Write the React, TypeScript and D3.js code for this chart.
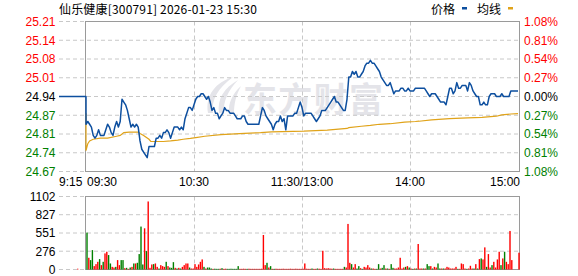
import React from 'react';
import * as d3 from 'd3';

const title = '仙乐健康[300791] 2026-01-23 15:30';
const legendLabels = ['价格', '均线'];
const preClose = 24.94;
const priceTicks = ['25.21', '25.14', '25.08', '25.01', '24.94', '24.87', '24.81', '24.74', '24.67'];
const pctTicks = ['1.08%', '0.81%', '0.54%', '0.27%', '0.00%', '0.27%', '0.54%', '0.81%', '1.08%'];
const volTicks = [1102, 827, 551, 276, 0];
const timeLabels = [
  { t: -15, label: '9:15', anchor: 'start' },
  { t: 0, label: '09:30', anchor: 'start' },
  { t: 60, label: '10:30', anchor: 'middle' },
  { t: 120, label: '11:30/13:00', anchor: 'middle' },
  { t: 180, label: '14:00', anchor: 'middle' },
  { t: 240, label: '15:00', anchor: 'end' },
];
const gridMinutes = [60, 120, 180];

// pre-market call auction (9:15 - 9:30)
const auctionTimes = [-15, 0];
const auctionPrices = [24.94, 24.94];
const auctionVolMinute = -5;
const auctionVolume = 12;

// one price per minute, 09:30 .. 15:00 (241 minutes)
const prices = [
  24.84, 24.85, 24.84, 24.83, 24.80, 24.79, 24.80, 24.82, 24.80, 24.80,
  24.80, 24.82, 24.84, 24.83, 24.81, 24.80, 24.83, 24.85, 24.83, 24.85,
  24.93, 24.92, 24.91, 24.89, 24.86, 24.83, 24.84, 24.83, 24.84, 24.83,
  24.78, 24.75, 24.74, 24.73, 24.72, 24.76, 24.76, 24.76, 24.76, 24.79,
  24.79, 24.80, 24.79, 24.81, 24.81, 24.82, 24.81, 24.79, 24.81, 24.83,
  24.83, 24.83, 24.82, 24.83, 24.82, 24.86, 24.88, 24.90, 24.90, 24.89,
  24.91, 24.93, 24.94, 24.94, 24.95, 24.95, 24.94, 24.93, 24.94, 24.92,
  24.89, 24.90, 24.88, 24.88, 24.86, 24.87, 24.88, 24.90, 24.89, 24.89,
  24.88, 24.88, 24.88, 24.87, 24.86, 24.86, 24.86, 24.87, 24.87, 24.85,
  24.84, 24.84, 24.84, 24.84, 24.84, 24.84, 24.84, 24.87, 24.90, 24.89,
  24.87, 24.86, 24.85, 24.84, 24.82, 24.84, 24.85, 24.85, 24.87, 24.85,
  24.86, 24.82, 24.87, 24.87, 24.87, 24.87, 24.88, 24.88, 24.90, 24.92,
  24.90, 24.87, 24.88, 24.88, 24.88, 24.88, 24.87, 24.86, 24.85, 24.86,
  24.87, 24.89, 24.89, 24.89, 24.90, 24.91, 24.92, 24.93, 24.94, 24.92,
  24.92, 24.91, 24.90, 24.89, 24.89, 24.93, 25.01, 25.01, 25.03, 25.02,
  25.03, 25.01, 25.01, 25.02, 25.03, 25.05, 25.06, 25.06, 25.07, 25.06,
  25.06, 25.05, 25.04, 25.03, 25.01, 25.00, 24.99, 24.98, 24.98, 24.99,
  24.97, 24.95, 24.96, 24.96, 24.96, 24.97, 24.97, 24.96, 24.96, 24.97,
  24.96, 24.96, 24.96, 24.97, 24.97, 24.97, 24.97, 24.97, 24.97, 24.96,
  24.95, 24.94, 24.95, 24.95, 24.95, 24.94, 24.93, 24.92, 24.92, 24.92,
  24.91, 24.94, 24.97, 24.97, 24.95, 24.96, 24.99, 24.97, 24.97, 24.98,
  24.98, 24.98, 24.96, 24.99, 24.98, 24.96, 24.95, 24.94, 24.94, 24.91,
  24.91, 24.92, 24.91, 24.91, 24.94, 24.95, 24.95, 24.95, 24.94, 24.94,
  24.94, 24.95, 24.94, 24.94, 24.94, 24.94, 24.96, 24.96, 24.96, 24.96,
  24.96,
];

// average-price line, read at its visible turning points
const avgTimes = [0, 0, 1, 2, 4, 8, 12, 17, 19, 21, 24, 29, 30, 32, 35, 36, 43, 47, 51, 54, 58, 61, 66, 75, 88, 97, 103, 121, 134, 145, 146, 153, 158, 163, 169, 177, 183, 185, 192, 202, 212, 220, 228, 231, 236, 240];
const avgValues = [24.88, 24.745, 24.77, 24.78, 24.786, 24.79, 24.79, 24.797, 24.80, 24.81, 24.812, 24.812, 24.807, 24.80, 24.786, 24.778, 24.778, 24.78, 24.783, 24.786, 24.789, 24.792, 24.797, 24.803, 24.807, 24.81, 24.813, 24.815, 24.819, 24.825, 24.828, 24.833, 24.836, 24.84, 24.842, 24.848, 24.85, 24.851, 24.856, 24.86, 24.863, 24.865, 24.869, 24.874, 24.877, 24.878];

const volumes = [
  557, 177, 142, 293, 51, 81, 116, 157, 66, 116,
  243, 268, 218, 91, 40, 30, 40, 142, 66, 142,
  142, 20, 25, 10, 30, 40, 91, 91, 101, 233,
  648, 76, 622, 278, 1027, 25, 76, 81, 91, 40,
  15, 66, 51, 40, 116, 51, 30, 25, 111, 25,
  15, 25, 15, 40, 66, 91, 91, 30, 15, 15,
  81, 40, 76, 116, 152, 40, 15, 30, 30, 15,
  10, 12, 10, 10, 12, 20, 10, 12, 10, 10,
  12, 10, 10, 10, 51, 10, 10, 12, 10, 10,
  12, 10, 10, 10, 10, 10, 10, 12, 521, 66,
  101, 30, 51, 10, 10, 12, 10, 10, 10, 12,
  10, 10, 10, 12, 10, 10, 12, 10, 10, 10,
  12, 91, 12, 10, 10, 15, 10, 10, 15, 12,
  10, 283, 20, 15, 20, 15, 12, 15, 10, 10,
  10, 10, 10, 40, 30, 688, 101, 81, 30, 81,
  15, 51, 20, 10, 40, 30, 66, 30, 15, 15,
  10, 10, 81, 15, 25, 66, 15, 15, 10, 81,
  25, 15, 15, 30, 177, 15, 30, 40, 51, 30,
  15, 10, 15, 15, 385, 15, 15, 15, 15, 81,
  51, 51, 15, 40, 30, 91, 15, 15, 15, 15,
  40, 30, 15, 15, 15, 40, 10, 10, 91, 81,
  15, 10, 15, 56, 15, 15, 81, 15, 157, 167,
  152, 334, 40, 233, 30, 66, 116, 30, 152, 268,
  66, 167, 268, 116, 81, 582, 142, 0, 0, 0,
  253,
];

const volDirs = (
  'GRGGRRRGRG' + 'RRGGRRGRRG' + 'GRGRGRGRGG' + 'GGRGRRRGRR' + 'GRRRGRGGGR' +
  'GRGRRRRGRR' + 'RRRRRGRGGG' + 'RGGGRGRRGG' + 'GGGGGRRRRG' + 'RRRRRRRRRR' +
  'GRGRGRRRRR' + 'RRRRRRRRRR' + 'RRRRRGRRGR' + 'RRRRRRRGRR' + 'RRRGRRRGRR' +
  'GGRGRRRRGR' + 'RGGRGGRGRG' + 'GRRRRRRGRG' + 'RGRGRRRGRG' + 'GRGRRGGRGR' +
  'RRRRRRGRRR' + 'RGRRRGRGRG' + 'RRGRRGRRRR' + 'GRGRRRRRRR' + 'R'
).split('');

const RED = '#ff0000';
const GREEN = '#008000';
const BLUE = '#0d4f9f';
const GOLD = '#e0a31a';
const GRID = '#c8c8c8';
const BORDER = '#9a9a9a';
const FONT = '"Liberation Sans", Arial, sans-serif';
const CJK = '"Noto Sans CJK SC", sans-serif';

export default function App() {
  const x = d3.scaleLinear().domain([-15, 240]).range([59, 518]);
  const priceMax = +priceTicks[0];
  const priceMin = +priceTicks[priceTicks.length - 1];
  const yP = d3.scaleLinear().domain([priceMin, priceMax]).range([171.5, 21.5]);
  const yV = d3.scaleLinear().domain([0, volTicks[0]]).range([269.5, 196.5]);

  const left = 85.5, right = 519.5;
  const gridYs = priceTicks.map((_, i) => 21.5 + (i * 150) / (priceTicks.length - 1));
  const volGridYs = volTicks.map((v) => yV(v));

  const line = d3
    .line<[number, number]>()
    .x((d) => x(d[0]))
    .y((d) => yP(d[1]));

  const pricePts: [number, number][] = [
    ...auctionTimes.map((t, i) => [t, auctionPrices[i]] as [number, number]),
    ...prices.map((p, i) => [i, p] as [number, number]),
  ];
  const avgPts: [number, number][] = avgTimes.map((t, i) => [t, avgValues[i]]);

  const tickColor = (i: number) => (i < 4 ? RED : i === 4 ? '#000' : GREEN);

  return (
    <svg
      width={578}
      height={276}
      style={{ position: 'absolute', left: 0, top: 0, background: '#fff' }}
    >
      <rect x={0} y={0} width={578} height={276} fill="#fff" />

      {/* watermark */}
      <g fill="#e4e4e9">
        <path d="M233,77 C216,82 205,95 208,113 L213,113 C211,100 218,88 233,77 Z" />
        <path d="M238,80 C224,88 217,99 219,113 L224,113 C223,101 228,91 238,80 Z" />
        <path d="M241,86 C232,94 228,104 229,113 L234,113 C234,104 236,95 241,86 Z" />
        <text x={243} y={112} fontFamily={CJK} fontSize={34} fontWeight="bold" textLength={140} lengthAdjust="spacing">
          东方财富
        </text>
      </g>

      {/* title & legend */}
      <text x={59} y={14} fontFamily={CJK} fontSize={12} fill="#000" textLength={198} lengthAdjust="spacing">
        {title}
      </text>
      <text x={431} y={14} fontFamily={CJK} fontSize={12} fill="#000">{legendLabels[0]}</text>
      <rect x={462} y={7} width={5} height={2.5} fill={BLUE} />
      <text x={477} y={14} fontFamily={CJK} fontSize={12} fill="#000">{legendLabels[1]}</text>
      <rect x={508} y={7} width={5} height={2.5} fill={GOLD} />

      {/* price grid */}
      {gridYs.map((gy, i) => (
        <line key={'g' + i} x1={59} x2={right} y1={gy} y2={gy} stroke={GRID} strokeDasharray="4,3" />
      ))}
      {gridMinutes.map((m) => (
        <line key={'vg' + m} x1={Math.round(x(m)) + 0.5} x2={Math.round(x(m)) + 0.5} y1={21.5} y2={171.5} stroke={GRID} strokeDasharray="4,3" />
      ))}
      {/* volume grid */}
      {volGridYs.map((gy, i) => (
        <line key={'vgy' + i} x1={59} x2={right} y1={gy} y2={gy} stroke={GRID} strokeDasharray="4,3" />
      ))}
      {gridMinutes.map((m) => (
        <line key={'vvg' + m} x1={Math.round(x(m)) + 0.5} x2={Math.round(x(m)) + 0.5} y1={196.5} y2={269.5} stroke={GRID} strokeDasharray="4,3" />
      ))}

      {/* borders */}
      <rect x={left} y={21.5} width={right - left} height={150} fill="none" stroke={BORDER} />
      <rect x={left} y={196.5} width={right - left} height={73} fill="none" stroke={BORDER} />

      {/* price axis labels */}
      {priceTicks.map((t, i) => (
        <text key={'pl' + i} x={55.5} y={gridYs[i]} dy="0.36em" textAnchor="end" fontFamily={FONT} fontSize={12} fill={tickColor(i)}>
          {t}
        </text>
      ))}
      {pctTicks.map((t, i) => (
        <text key={'pr' + i} x={524} y={gridYs[i]} dy="0.36em" fontFamily={FONT} fontSize={12} fill={tickColor(i)}>
          {t}
        </text>
      ))}
      {volTicks.map((v, i) => (
        <text key={'vl' + i} x={55.5} y={volGridYs[i]} dy="0.36em" textAnchor="end" fontFamily={FONT} fontSize={12} fill="#000">
          {v}
        </text>
      ))}

      {/* time labels */}
      {timeLabels.map((tl) => (
        <text
          key={tl.label}
          x={tl.anchor === 'end' ? x(tl.t) + 2 : tl.anchor === 'start' ? x(tl.t) + (tl.t === 0 ? 1 : 0) : x(tl.t)}
          y={186}
          textAnchor={tl.anchor as any}
          fontFamily={FONT}
          fontSize={12}
          fill="#000"
        >
          {tl.label}
        </text>
      ))}

      {/* lines */}
      <path d={line(avgPts) || ''} fill="none" stroke={GOLD} strokeWidth={1.2} />
      <path d={line(pricePts) || ''} fill="none" stroke={BLUE} strokeWidth={1.5} strokeLinejoin="round" />

      {/* volume bars */}
      <rect
        x={x(auctionVolMinute)}
        y={yV(auctionVolume)}
        width={1.4}
        height={yV(0) - yV(auctionVolume)}
        fill={RED}
      />
      {volumes.map((v, i) =>
        v > 0 ? (
          <rect
            key={'vb' + i}
            x={x(i) + 0.3}
            y={yV(v)}
            width={1.4}
            height={yV(0) - yV(v)}
            fill={volDirs[i] === 'R' ? RED : GREEN}
          />
        ) : null
      )}
    </svg>
  );
}
